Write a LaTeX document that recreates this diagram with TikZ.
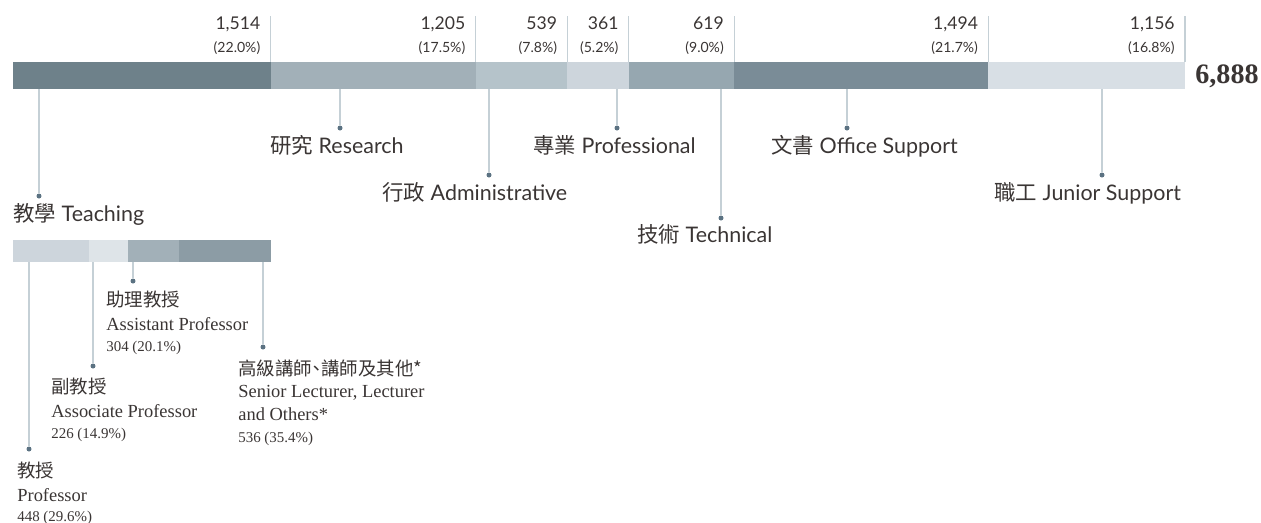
\documentclass[tikz,border=0pt]{standalone}
\usepackage{fontspec}
\setmainfont{Liberation Serif}
\newfontfamily\labelfont{Lato}
\newfontfamily\cjk{Noto Sans CJK TC}
\usetikzlibrary{positioning}

\definecolor{segTeach}{HTML}{6E818A}
\definecolor{segRes}{HTML}{A2B0B8}
\definecolor{segAdm}{HTML}{B5C3CA}
\definecolor{segPro}{HTML}{CDD5DC}
\definecolor{segTec}{HTML}{96A7B0}
\definecolor{segOff}{HTML}{7A8C97}
\definecolor{segJun}{HTML}{D8DFE5}
\definecolor{subProf}{HTML}{CDD5DC}
\definecolor{subAssoc}{HTML}{DEE4E8}
\definecolor{subAsst}{HTML}{A2B0B8}
\definecolor{subOth}{HTML}{8C9CA5}
\definecolor{lineGray}{HTML}{C5D0D6}
\definecolor{dotGray}{HTML}{5B7282}
\definecolor{txt}{HTML}{3A3534}

\newcommand{\zh}[1]{{\cjk #1}}

\tikzset{
  leader/.style={draw=lineGray, line width=0.6pt},
  dot/.style={circle, fill=dotGray, inner sep=0pt, minimum size=0.1cm},
  count/.style={anchor=base east, inner sep=0pt, text=txt, font=\labelfont\fontsize{10}{12}\selectfont},
  share/.style={anchor=base east, inner sep=0pt, text=txt, font=\labelfont\fontsize{8}{9}\selectfont},
  cat/.style={anchor=base west, inner sep=0pt, text=txt, font=\labelfont\fontsize{12.2}{14}\selectfont},
  subzh/.style={anchor=base west, inner sep=0pt, text=txt, font=\cjk\fontsize{10.5}{12}\selectfont},
  suben/.style={anchor=base west, inner sep=0pt, text=txt, font=\fontsize{10.5}{12}\selectfont},
  subnum/.style={anchor=base west, inner sep=0pt, text=txt, font=\fontsize{8.5}{10}\selectfont}
}

\begin{document}
\begin{tikzpicture}[x=0.02cm, y=-0.02cm]
\useasboundingbox (0,0) rectangle (1261,522);

% staff bar
\fill[segTeach] (13,62) rectangle (270.6,89);
\fill[segRes] (270.6,62) rectangle (475.6,89);
\fill[segAdm] (475.6,62) rectangle (567.4,89);
\fill[segPro] (567.4,62) rectangle (628.8,89);
\fill[segTec] (628.8,62) rectangle (734.1,89);
\fill[segOff] (734.1,62) rectangle (988.3,89);
\fill[segJun] (988.3,62) rectangle (1185,89);

% ticks above the bar
\foreach \x in {270.6,475.6,567.4,628.8,734.1,988.3,1185}
  \draw[leader] (\x,16) -- (\x,62);

% counts
\node[count] (nTeach) at (260.6,29) {1,514};
\node[share] (pTeach) at (260.6,52) {(22.0\%)};
\node[count] (nRes) at (465.6,29) {1,205};
\node[share] (pRes) at (465.6,52) {(17.5\%)};
\node[count] (nAdm) at (557.4,29) {539};
\node[share] (pAdm) at (557.4,52) {(7.8\%)};
\node[count] (nPro) at (618.8,29) {361};
\node[share] (pPro) at (618.8,52) {(5.2\%)};
\node[count] (nTec) at (724.1,29) {619};
\node[share] (pTec) at (724.1,52) {(9.0\%)};
\node[count] (nOff) at (978.3,29) {1,494};
\node[share] (pOff) at (978.3,52) {(21.7\%)};
\node[count] (nJun) at (1175,29) {1,156};
\node[share] (pJun) at (1175,52) {(16.8\%)};
\node[anchor=base west, inner sep=0pt, text=txt, font=\bfseries\fontsize{16}{18}\selectfont] (total) at (1195,83) {6,888};

% category leaders
\coordinate (tTeach) at (39,89);
\coordinate (tRes) at (340,89);
\coordinate (tAdm) at (489,89);
\coordinate (tPro) at (617,89);
\coordinate (tTec) at (721,89);
\coordinate (tOff) at (847,89);
\coordinate (tJun) at (1102,89);
\node[dot] (dTeach) at (39,196) {};
\node[dot] (dRes) at (340,128) {};
\node[dot] (dAdm) at (489,175) {};
\node[dot] (dPro) at (617,128) {};
\node[dot] (dTec) at (721,218) {};
\node[dot] (dOff) at (847,128) {};
\node[dot] (dJun) at (1102,175) {};
\draw[leader] (tTeach) -- (dTeach);
\draw[leader] (tRes) -- (dRes);
\draw[leader] (tAdm) -- (dAdm);
\draw[leader] (tPro) -- (dPro);
\draw[leader] (tTec) -- (dTec);
\draw[leader] (tOff) -- (dOff);
\draw[leader] (tJun) -- (dJun);

\node[cat] (lTeach) at (13,221) {\zh{教學} Teaching};
\node[cat] (lRes) at (270,153) {\zh{研究} Research};
\node[cat] (lAdm) at (382,200) {\zh{行政} Administrative};
\node[cat] (lPro) at (533,153) {\zh{專業} Professional};
\node[cat] (lTec) at (637,242) {\zh{技術} Technical};
\node[cat] (lOff) at (771,153) {\zh{文書} Office Support};
\node[cat] (lJun) at (994,200) {\zh{職工} Junior Support};

% teaching breakdown
\fill[subProf] (13,240) rectangle (89.2,262);
\fill[subAssoc] (89.2,240) rectangle (127.7,262);
\fill[subAsst] (127.7,240) rectangle (179.4,262);
\fill[subOth] (179.4,240) rectangle (270.6,262);

\coordinate (tProf) at (29,262);
\coordinate (tAssoc) at (93,262);
\coordinate (tAsst) at (133,262);
\coordinate (tOth) at (263,262);
\node[dot] (dProf) at (29,449) {};
\node[dot] (dAssoc) at (93,366) {};
\node[dot] (dAsst) at (133,281) {};
\node[dot] (dOth) at (263,347) {};
\draw[leader] (tProf) -- (dProf);
\draw[leader] (tAssoc) -- (dAssoc);
\draw[leader] (tAsst) -- (dAsst);
\draw[leader] (tOth) -- (dOth);

\node[subzh] (zProf) at (17,477) {教授};
\node[suben] (eProf) at (17,501) {Professor};
\node[subnum] (vProf) at (17,521) {448 (29.6\%)};

\node[subzh] (zAssoc) at (51,393) {副教授};
\node[suben] (eAssoc) at (51,417) {Associate Professor};
\node[subnum] (vAssoc) at (51,438) {226 (14.9\%)};

\node[subzh] (zAsst) at (106,306) {助理教授};
\node[suben] (eAsst) at (106,330) {Assistant Professor};
\node[subnum] (vAsst) at (106,351) {304 (20.1\%)};

\node[subzh] (zOth) at (238,375) {高級講師\kern-0.25em、\kern-0.25em講師及其他*};
\node[suben] (eOth) at (238,397) {Senior Lecturer, Lecturer};
\node[suben] (eOth2) at (238,420) {and Others*};
\node[subnum] (vOth) at (238,442) {536 (35.4\%)};
\end{tikzpicture}
\end{document}
